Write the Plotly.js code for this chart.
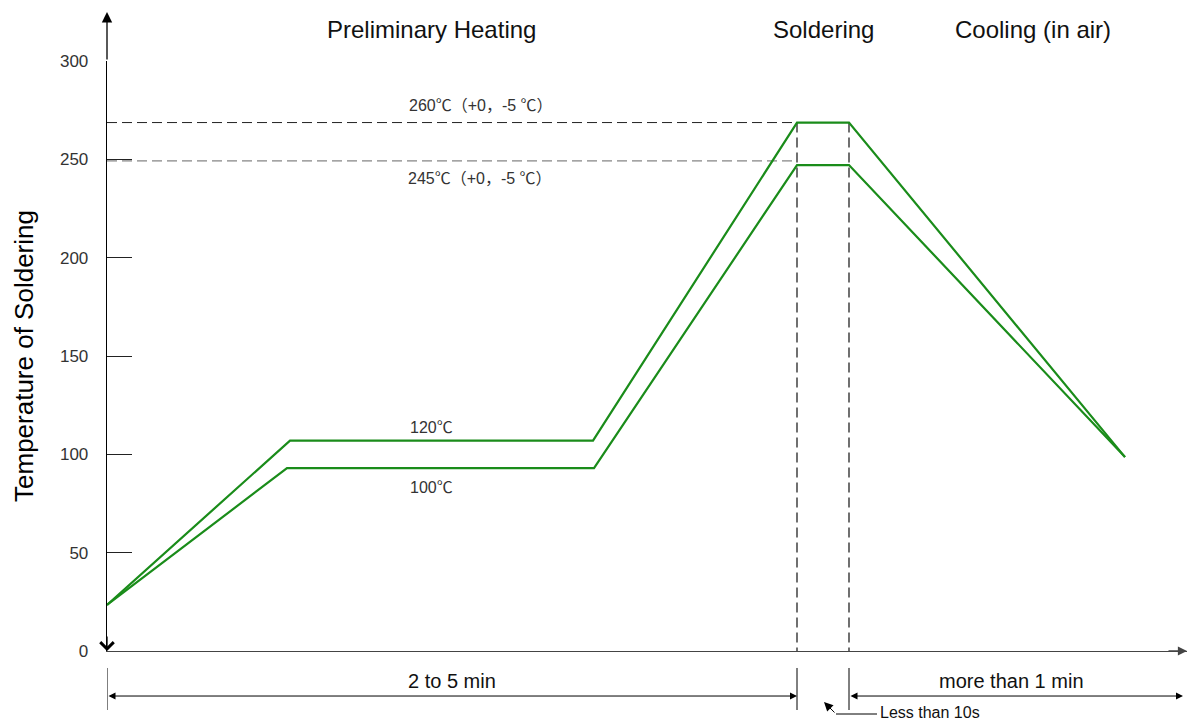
<!DOCTYPE html>
<html>
<head>
<meta charset="utf-8">
<script src="https://cdn.plot.ly/plotly-3.0.1.min.js"></script>
<style>html,body{margin:0;padding:0;background:#fff;}#chart{width:1189px;height:723px;}</style>
</head>
<body>
<div id="chart"></div>
<script>
// ---- data (time in arbitrary units, temperature) ----
const timeUpper = [0, 183, 486, 690, 742, 1018];
const tempUpper = [23.4, 107, 107, 268.7, 268.7, 98.6];
const timeLower = [0, 180, 487, 690, 742, 1018];
const tempLower = [23.4, 93, 93, 247.1, 247.1, 98.6];
const refUpper = 268.7;   // 260℃ (+0, -5℃)
const refLower = 249.2;   // 245℃ (+0, -5℃)
const solderStart = 690;
const solderEnd = 742;
const phaseNames = ["Preliminary Heating", "Soldering", "Cooling (in air)"];
const phaseCenters = [324, 716, 926];
const refLabels = ["260℃（+0，-5 ℃）", "245℃（+0，-5 ℃）"];
const plateauLabels = ["120℃", "100℃"];
const spanLabels = ["2 to 5 min", "more than 1 min", "Less than 10s"];
const coolingEnd = 1076;

const FONT = "Liberation Sans, Arial, Noto Sans CJK SC, sans-serif";
const GREEN = "#1a8c1a";

const traces = [
  {x: [0, solderStart], y: [refUpper, refUpper], mode: "lines",
   line: {color: "#222", width: 1, dash: "10px,5px"}, hoverinfo: "skip"},
  {x: [0, solderStart], y: [refLower, refLower], mode: "lines",
   line: {color: "#666", width: 1, dash: "10px,5px"}, hoverinfo: "skip"},
  {x: [solderStart, solderStart], y: [refUpper, 0], mode: "lines",
   line: {color: "#111", width: 1.2, dash: "10px,5px"}, hoverinfo: "skip"},
  {x: [solderEnd, solderEnd], y: [refUpper, 0], mode: "lines",
   line: {color: "#111", width: 1.2, dash: "10px,5px"}, hoverinfo: "skip"},
  {x: timeUpper, y: tempUpper, mode: "lines", name: "upper",
   line: {color: GREEN, width: 2.2}},
  {x: timeLower, y: tempLower, mode: "lines", name: "lower",
   line: {color: GREEN, width: 2.2}}
];

function label(text, xref, yref, x, y, size, color, xanchor) {
  return {text: text, xref: xref, yref: yref, x: x, y: y,
    xanchor: xanchor || "center", yanchor: "middle", showarrow: false,
    font: {family: FONT, size: size, color: color}};
}

const annotations = [];
// phase labels
phaseNames.forEach((t, i) => annotations.push(
  label(t, "x", "paper", phaseCenters[i], 1.054, 24, "#111")));
// reference labels
annotations.push(label(refLabels[0], "x", "y", 374, 277.6, 16, "#333"));
annotations.push(label(refLabels[1], "x", "y", 373, 240.5, 16, "#333"));
annotations.push(label(plateauLabels[0], "x", "y", 324, 113.4, 16, "#333"));
annotations.push(label(plateauLabels[1], "x", "y", 324, 82.9, 16, "#333"));
// axis arrows
annotations.push({text: "", xref: "paper", yref: "paper", x: 0, y: 1.083,
  axref: "pixel", ayref: "pixel", ax: 0, ay: 49, showarrow: true,
  arrowhead: 2, arrowsize: 1.6, arrowwidth: 1.3, arrowcolor: "#000"});
annotations.push({text: "", xref: "paper", yref: "paper", x: 0, y: 0,
  axref: "pixel", ayref: "pixel", ax: 0, ay: -16, showarrow: true,
  arrowhead: 4, arrowsize: 2, arrowwidth: 1.3, arrowcolor: "#000"});
annotations.push({text: "", xref: "paper", yref: "paper", x: 1, y: 0,
  axref: "pixel", ayref: "pixel", ax: -20, ay: 0, showarrow: true,
  arrowhead: 2, arrowsize: 1.4, arrowwidth: 1.3, arrowcolor: "#444"});
// span arrows
annotations.push({text: "", xref: "x", yref: "paper", x: solderStart, y: -0.0763,
  axref: "x", ayref: "pixel", ax: 0, ay: 0, showarrow: true, arrowside: "end+start",
  arrowhead: 2, startarrowhead: 2, arrowsize: 1.4, startarrowsize: 1.4,
  arrowwidth: 1, arrowcolor: "#000"});
annotations.push({text: "", xref: "x", yref: "paper", x: coolingEnd, y: -0.0763,
  axref: "x", ayref: "pixel", ax: solderEnd, ay: 0, showarrow: true, arrowside: "end+start",
  arrowhead: 2, startarrowhead: 2, arrowsize: 1.4, startarrowsize: 1.4,
  arrowwidth: 1, arrowcolor: "#000"});
annotations.push(label(spanLabels[0], "x", "paper", 345, -0.0508, 20, "#111"));
annotations.push(label(spanLabels[1], "x", "paper", 904, -0.0508, 20, "#111"));
annotations.push(label(spanLabels[2], "x", "paper", 771, -0.1034, 16, "#111", "left"));
annotations.push({text: "", xref: "x", yref: "paper", x: 717, y: -0.0864,
  axref: "pixel", ayref: "pixel", ax: 12, ay: 12, showarrow: true,
  arrowhead: 2, arrowsize: 1.8, arrowwidth: 1, arrowcolor: "#000"});

const shapes = [];
[0, solderStart, solderEnd].forEach(x => shapes.push({
  type: "line", xref: "x", yref: "paper", x0: x, x1: x, y0: -0.0288, y1: -0.1,
  line: {color: "#000", width: 1}
}));
shapes.push({type: "line", xref: "x", yref: "paper", x0: 729, x1: 770,
  y0: -0.1068, y1: -0.1068, line: {color: "#000", width: 1}});

const layout = {
  width: 1189, height: 723,
  margin: {l: 107, r: 2, t: 61, b: 72},
  paper_bgcolor: "#fff", plot_bgcolor: "#fff",
  showlegend: false,
  xaxis: {range: [0, 1080], showgrid: false, zeroline: false, showticklabels: false,
    ticks: "", showline: true, linecolor: "#444", linewidth: 1.3, fixedrange: true},
  yaxis: {range: [0, 300], dtick: 50, showgrid: false, zeroline: false,
    showline: true, linecolor: "#000", linewidth: 1.3,
    ticks: "inside", ticklen: 25, tickwidth: 1, tickcolor: "#222",
    ticklabelstandoff: 14,
    tickfont: {family: FONT, size: 17, color: "#333"},
    title: {text: "Temperature of Soldering", standoff: 18,
      font: {family: FONT, size: 26, color: "#000"}},
    fixedrange: true},
  annotations: annotations,
  shapes: shapes
};

Plotly.newPlot("chart", traces, layout, {displayModeBar: false, staticPlot: true});
</script>
</body>
</html>
